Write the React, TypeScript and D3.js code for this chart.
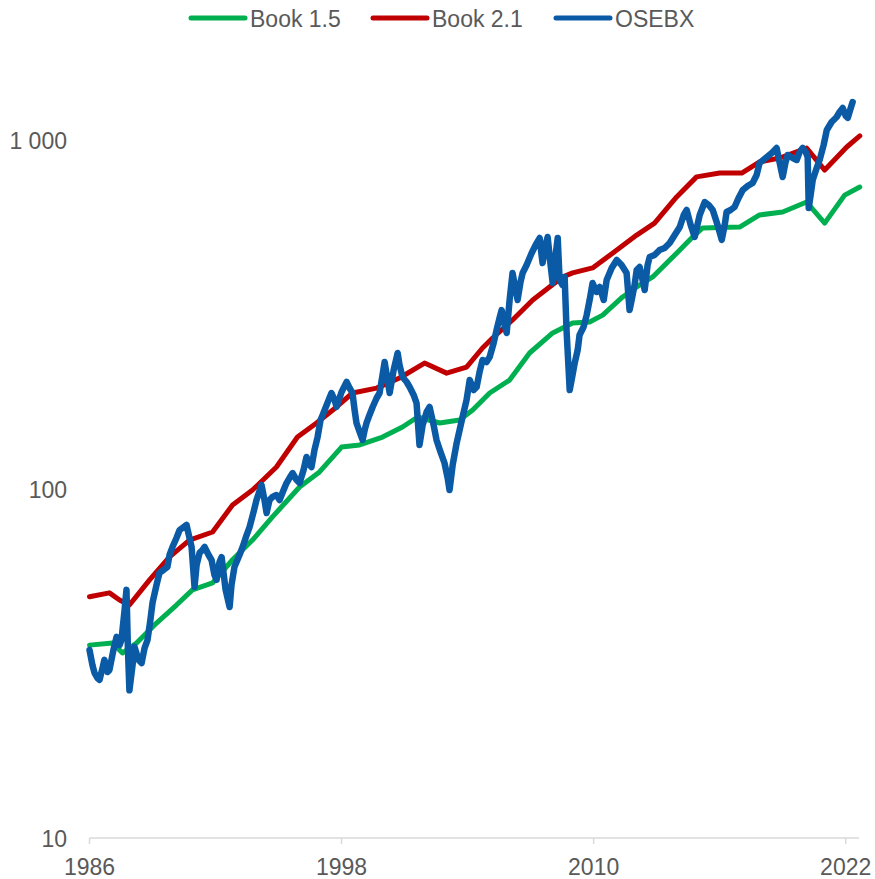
import React from "react";
import * as d3 from "d3";

// ---- Data ----
const book15Years = [1986.0, 1987.1, 1987.57, 1988.24, 1989.19, 1990.14, 1990.9, 1991.86, 1992.81, 1993.76, 1994.71, 1996.0, 1996.95, 1998.0, 1998.86, 1999.95, 2000.9, 2001.62, 2002.67, 2003.62, 2004.24, 2005.05, 2006.0, 2006.95, 2008.05, 2009.0, 2009.81, 2010.43, 2011.38, 2012.19, 2012.81, 2013.95, 2014.71, 2015.19, 2016.95, 2017.9, 2019.0, 2020.14, 2021.0, 2021.95, 2022.67];
const book15Values = [35.7, 36.2, 33.9, 36.2, 41.3, 46.5, 51.4, 53.8, 62.7, 71.4, 83.2, 101.3, 111.9, 131.9, 133.7, 140.9, 150.5, 160.8, 154.6, 157.7, 168.4, 188.4, 205.2, 245.3, 280, 299, 301, 315, 355, 384, 405, 474, 527, 560, 563, 610, 622, 664, 578, 695, 733];

const book21Years = [1986.0, 1986.95, 1987.43, 1987.9, 1988.86, 1989.81, 1990.76, 1991.86, 1992.81, 1993.76, 1994.9, 1995.9, 1996.81, 1997.76, 1998.52, 1999.67, 2000.76, 2001.95, 2003.0, 2003.95, 2004.71, 2005.19, 2006.14, 2007.1, 2007.9, 2008.52, 2009.0, 2009.95, 2010.9, 2012.05, 2012.9, 2013.95, 2014.9, 2016.0, 2017.05, 2017.9, 2018.86, 2020.14, 2021.0, 2022.05, 2022.67];
const book21Values = [49.1, 50.4, 48.1, 46.5, 54.9, 63.9, 71.4, 75.3, 90.0, 99.3, 115.6, 140.9, 154.6, 171.8, 188.4, 194.6, 208, 229.6, 214.8, 223.6, 253.5, 270.8, 305, 348, 379, 405, 416, 430, 474, 534, 578, 687, 784, 804, 804, 865, 888, 948, 820, 955, 1027];

const osebxYears = [
  1986.0, 1986.14, 1986.24, 1986.38, 1986.48, 1986.62, 1986.71, 1986.86, 1986.95, 1987.14,
  1987.29, 1987.43, 1987.52, 1987.67, 1987.76, 1987.83, 1987.9, 1988.05, 1988.14, 1988.33,
  1988.48, 1988.62, 1988.76, 1988.9, 1989.0, 1989.19, 1989.33, 1989.52, 1989.71, 1989.81,
  1989.95, 1990.14, 1990.29, 1990.48, 1990.62, 1990.76, 1990.86, 1991.0, 1991.1, 1991.24,
  1991.38, 1991.48, 1991.67, 1991.81, 1991.95, 1992.05, 1992.19, 1992.29, 1992.48, 1992.67,
  1992.76, 1992.9, 1993.14, 1993.29, 1993.48, 1993.62, 1993.81, 1993.95, 1994.19, 1994.33,
  1994.43, 1994.57, 1994.71, 1994.9, 1995.05, 1995.24, 1995.38, 1995.52, 1995.67, 1995.86,
  1996.0, 1996.19, 1996.33, 1996.48, 1996.57, 1996.71, 1996.86, 1997.0, 1997.1, 1997.29,
  1997.52, 1997.67, 1997.76, 1998.0, 1998.24, 1998.38, 1998.52, 1998.62, 1998.71, 1998.86,
  1999.0, 1999.1, 1999.19, 1999.33, 1999.48, 1999.67, 1999.81, 1999.95, 2000.05, 2000.19,
  2000.29, 2000.48, 2000.67, 2000.76, 2000.9, 2001.1, 2001.24, 2001.43, 2001.57, 2001.71,
  2001.86, 2002.05, 2002.19, 2002.38, 2002.52, 2002.71, 2002.9, 2003.05, 2003.14, 2003.29,
  2003.48, 2003.62, 2003.76, 2003.95, 2004.1, 2004.29, 2004.43, 2004.57, 2004.71, 2004.9,
  2005.05, 2005.24, 2005.38, 2005.52, 2005.62, 2005.76, 2005.86, 2006.0, 2006.14, 2006.29,
  2006.38, 2006.52, 2006.62, 2006.81, 2007.05, 2007.24, 2007.43, 2007.52, 2007.57, 2007.71,
  2007.81, 2007.95, 2008.05, 2008.19, 2008.29, 2008.38, 2008.52, 2008.62, 2008.71, 2008.86,
  2008.95, 2009.1, 2009.24, 2009.33, 2009.52, 2009.67, 2009.81, 2009.95, 2010.14, 2010.29,
  2010.48, 2010.62, 2010.86, 2011.1, 2011.33, 2011.57, 2011.71, 2011.81, 2011.95, 2012.05,
  2012.19, 2012.33, 2012.43, 2012.57, 2012.67, 2012.9, 2013.14, 2013.38, 2013.62, 2013.86,
  2014.1, 2014.29, 2014.43, 2014.62, 2014.81, 2015.05, 2015.29, 2015.48, 2015.67, 2015.9,
  2016.1, 2016.24, 2016.33, 2016.52, 2016.71, 2016.9, 2017.1, 2017.33, 2017.57, 2017.76,
  2017.9, 2018.19, 2018.48, 2018.71, 2018.86, 2019.0, 2019.14, 2019.24, 2019.48, 2019.67,
  2019.81, 2019.95, 2020.1, 2020.19, 2020.24, 2020.33, 2020.43, 2020.62, 2020.76, 2020.95,
  2021.1, 2021.33, 2021.57, 2021.71, 2021.86, 2022.0, 2022.1, 2022.24, 2022.33
];
const osebxValues = [
  34.6, 31.3, 29.7, 28.7, 28.4, 30.7, 32.4, 29.9, 30.3, 34.6,
  37.7, 35.7, 36.9, 45.0, 51.4, 34.6, 26.5, 31.3, 35.3, 32.4,
  31.7, 35.0, 36.9, 42.2, 47.2, 53.1, 57.5, 58.6, 59.8, 64.7,
  68.2, 72.4, 76.3, 77.8, 78.9, 72.4, 68.2, 52.4, 60.6, 65.6,
  66.9, 68.2, 64.7, 62.6, 56.7, 54.9, 61.8, 63.8, 51.4, 45.9,
  53.1, 59.8, 64.7, 68.2, 73.8, 77.8, 85.9, 93.0, 102.7, 93.0,
  85.4, 93.0, 94.9, 96.1, 93.0, 99.3, 104.0, 107.5, 111.1, 106.1,
  104.0, 113.4, 123.5, 117.2, 115.6, 129.3, 141.0, 157.7, 162.9, 174.0,
  188.4, 179.9, 171.8, 189.7, 202.6, 194.7, 188.4, 168.4, 154.6, 145.7,
  138.2, 147.6, 154.6, 163.0, 171.8, 182.3, 188.4, 212.1, 231.1, 205.2,
  188.4, 219.2, 245.3, 226.6, 209.4, 202.6, 196.0, 186.0, 176.3, 133.7,
  152.6, 166.2, 171.8, 152.6, 138.2, 127.7, 118.7, 107.5, 99.3, 117.2,
  135.5, 147.6, 160.8, 179.9, 205.2, 192.1, 196.0, 216.4, 234.2, 231.1,
  238.9, 262.0, 285.5, 309.0, 325.7, 295.1, 279.9, 348.0, 415.9, 371.7,
  348.0, 391.9, 415.9, 438.4, 474.5, 500.3, 523.8, 468.3, 444.3, 500.3,
  527.3, 438.4, 389.3, 468.3, 523.8, 397.1, 384.2, 405.0, 285.5, 192.1,
  205.2, 229.6, 250.1, 276.2, 291.2, 315.2, 348.0, 389.3, 366.9, 379.2,
  348.0, 397.1, 429.8, 453.1, 438.4, 415.9, 325.7, 348.0, 384.2, 424.2,
  432.7, 397.1, 371.7, 438.4, 462.2, 468.3, 484.0, 490.4, 506.9, 534.4,
  563.3, 609.7, 630.1, 570.8, 527.3, 609.7, 664.3, 651.3, 630.1, 570.8,
  517.0, 570.8, 621.9, 630.1, 642.7, 682.1, 719.0, 738.3, 753.0, 793.9,
  859.4, 888.1, 918.0, 948.7, 859.4, 783.5, 865.0, 905.9, 888.1, 876.5,
  924.0, 948.7, 924.0, 894.0, 638.5, 695.8, 768.1, 831.5, 876.5, 967.8,
  1068, 1126, 1164, 1203, 1235, 1172, 1157, 1235, 1285
];

const xTickYears = [1986, 1998, 2010, 2022];
const yTickValues = [10, 100, 1000];
const seriesNames = ["Book 1.5", "Book 2.1", "OSEBX"];
const seriesColors = ["#00B050", "#C00000", "#0B5AA5"];

const W = 875;
const H = 879;
const FONT = "'Liberation Sans', Arial, Helvetica, sans-serif";
const TEXT_COLOR = "#595959";

export default function App() {
  const x = d3.scaleLinear().domain([1986, 2022]).range([89.5, 845.7]);
  const y = d3.scaleLog().domain([10, 1000]).range([838, 140]);
  const axisEnd = 859;

  const line = d3
    .line<[number, number]>()
    .x((d) => x(d[0]))
    .y((d) => y(d[1]));

  const zip = (a: number[], b: number[]) => a.map((v, i) => [v, b[i]] as [number, number]);
  const series = [
    { name: seriesNames[0], color: seriesColors[0], data: zip(book15Years, book15Values), width: 5 },
    { name: seriesNames[1], color: seriesColors[1], data: zip(book21Years, book21Values), width: 5 },
    { name: seriesNames[2], color: seriesColors[2], data: zip(osebxYears, osebxValues), width: 6.5 },
  ];

  const fmt = (v: number) => d3.format(",")(v).replace(/,/g, " ");

  const legendX = [191, 373, 556];

  return (
    <svg
      width={W}
      height={H}
      style={{ position: "absolute", left: 0, top: 0, background: "#fff" }}
      fontFamily={FONT}
    >
      <rect x={0} y={0} width={W} height={H} fill="#fff" />
      {/* x axis */}
      <line x1={x(1986)} x2={axisEnd} y1={y(10)} y2={y(10)} stroke="#D9D9D9" strokeWidth={1.5} />
      {xTickYears.map((t) => (
        <g key={t}>
          <line x1={x(t)} x2={x(t)} y1={y(10)} y2={y(10) + 6} stroke="#D9D9D9" strokeWidth={1.5} />
          <text x={x(t)} y={875} textAnchor="middle" fontSize={23} fill={TEXT_COLOR}>
            {t}
          </text>
        </g>
      ))}
      {/* y labels */}
      {yTickValues.map((v) => (
        <text key={v} x={67} y={y(v) + 8.5} textAnchor="end" fontSize={23} fill={TEXT_COLOR}>
          {fmt(v)}
        </text>
      ))}
      {/* series */}
      {series.map((s) => (
        <path
          key={s.name}
          d={line(s.data) || ""}
          fill="none"
          stroke={s.color}
          strokeWidth={s.width}
          strokeLinejoin="round"
          strokeLinecap="round"
        />
      ))}
      {/* legend */}
      {series.map((s, i) => (
        <g key={"lg" + s.name}>
          <line
            x1={legendX[i]}
            x2={legendX[i] + 54}
            y1={18}
            y2={18}
            stroke={s.color}
            strokeWidth={5}
            strokeLinecap="round"
          />
          <text x={legendX[i] + 59} y={26.5} fontSize={23} fill={TEXT_COLOR}>
            {s.name}
          </text>
        </g>
      ))}
    </svg>
  );
}
